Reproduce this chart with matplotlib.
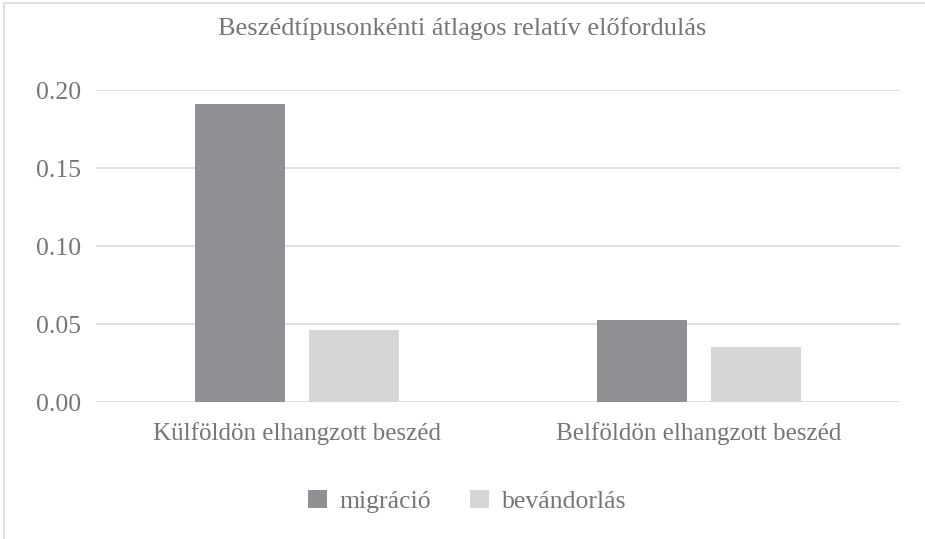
import matplotlib
matplotlib.use("Agg")
import matplotlib.pyplot as plt
import numpy as np

categories = ["Külföldön elhangzott beszéd", "Belföldön elhangzott beszéd"]
series_names = ["migráció", "bevándorlás"]
migracio = [0.191, 0.0526]
bevandorlas = [0.046, 0.0353]
yticks = [0.00, 0.05, 0.10, 0.15, 0.20]

plt.rcParams['font.family'] = ['Liberation Serif', 'DejaVu Serif']
txt = '#767676'

fig = plt.figure(figsize=(9.25, 5.39), dpi=100)
ax = fig.add_axes([0.1038, 0.254, 0.8692, 0.579])

x = np.arange(len(categories))
w = 0.224
off = 0.142
ax.bar(x - off, migracio, w, color='#8f9094', label=series_names[0], zorder=3)
ax.bar(x + off, bevandorlas, w, color='#d5d6d8', label=series_names[1], zorder=3)

ax.set_xlim(-0.5, 1.5)
ax.set_ylim(0, 0.20)
ax.set_yticks(yticks)
ax.set_yticklabels(["%.2f" % v for v in yticks])
ax.set_xticks(x)
ax.set_xticklabels(categories)
ax.tick_params(axis='y', length=0, labelsize=18.5, colors=txt, pad=11)
ax.tick_params(axis='x', length=0, labelsize=18, colors=txt, pad=14)
ax.grid(axis='y', color='#d9d9d9', linewidth=1.2, zorder=0)
for s in ax.spines.values():
    s.set_visible(False)

fig.text(0.5, 0.948, "Beszédtípusonkénti átlagos relatív előfordulás",
         ha='center', va='center', fontsize=19, color=txt)

leg = fig.legend(loc='center', bbox_to_anchor=(0.505, 0.07), ncol=2, frameon=False,
                 fontsize=18.5, handlelength=0.75, handleheight=0.75, handletextpad=0.5,
                 columnspacing=1.5)
for t in leg.get_texts():
    t.set_color(txt)

fig.patches.append(plt.Rectangle((0.004, -0.01), 1.1, 1.004, transform=fig.transFigure,
                                 fill=False, edgecolor='#d9d9d9', linewidth=1.2))

fig.savefig('out.png', dpi=100)
